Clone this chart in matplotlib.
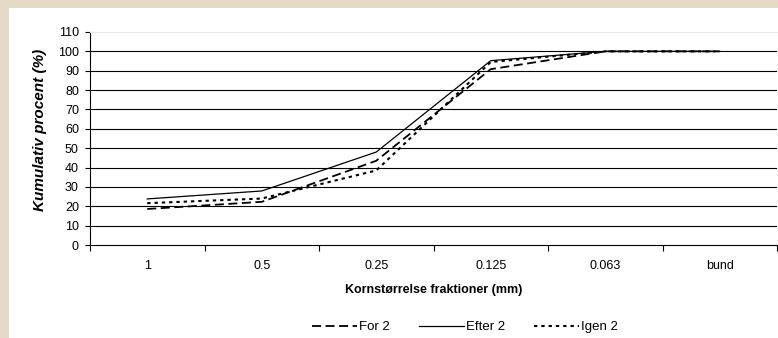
import matplotlib
matplotlib.use("Agg")
import matplotlib.pyplot as plt
from matplotlib.patches import Rectangle

# categories (grain size fractions) and cumulative percentages
fractions = ["1", "0.5", "0.25", "0.125", "0.063", "bund"]
for_2 = [18.6, 22.3, 43.5, 90.8, 100, 100]
efter_2 = [23.8, 27.9, 48.0, 95.2, 100, 100]
igen_2 = [21.6, 24.0, 38.5, 94.5, 100, 100]
y_ticks = list(range(0, 111, 10))

plt.rcParams['font.family'] = ['Liberation Sans', 'DejaVu Sans']

W, H = 778, 338
fig = plt.figure(figsize=(W / 100, H / 100), dpi=100)
fig.patch.set_facecolor("#E5D9C8")
# white panel inside the beige frame
fig.patches.append(Rectangle((9 / W, 0), 1, 1 - 8 / H, transform=fig.transFigure,
                             facecolor="white", edgecolor="none", zorder=-5))

ax = fig.add_axes([90 / W, 1 - 245 / H, (777 - 90) / W, (245 - 32) / H])
ax.set_zorder(2)
ax.set_facecolor("white")

x = list(range(len(fractions)))
ax.plot(x, for_2, color="black", lw=1.3, linestyle=(0, (5, 2.5)), label="For 2", zorder=3)
ax.plot(x, efter_2, color="black", lw=0.9, linestyle="-", label="Efter 2", zorder=3)
ax.plot(x, igen_2, color="black", lw=1.5, linestyle=(0, (1.6, 1.9)), label="Igen 2", zorder=3)

ax.set_xlim(-0.5, len(fractions) - 0.5)
ax.set_ylim(0, 110)

# category boundaries get tick marks, centers get labels
ax.set_xticks([i - 0.5 for i in range(len(fractions) + 1)])
ax.set_xticklabels([])
ax.set_xticks(x, minor=True)
ax.set_xticklabels(fractions, minor=True)
ax.tick_params(axis="x", which="major", direction="out", length=4, width=0.8, color="black")
ax.tick_params(axis="x", which="minor", length=0, pad=11, labelsize=9)
ax.set_yticks(y_ticks)
ax.tick_params(axis="y", direction="out", length=3.5, width=0.8, labelsize=9, pad=4.5)

for v in y_ticks[1:-1]:
    ax.axhline(v, color="black", lw=0.8, zorder=1)

ax.spines["right"].set_visible(False)
ax.spines["top"].set_color("#E8E8E8")
ax.spines["left"].set_linewidth(0.8)
ax.spines["bottom"].set_linewidth(0.8)

ax.set_xlabel("Kornstørrelse fraktioner (mm)", fontsize=9, fontweight="bold")
ax.xaxis.set_label_coords(0.5, -0.183)
ax.set_ylabel("Kumulativ procent (%)", fontsize=11, fontweight="bold", style="italic")
ax.yaxis.set_label_coords(-0.0626, 0.54)

fig.legend(loc="center", bbox_to_anchor=(465 / W, 1 - 327 / H), ncol=3, frameon=False,
           fontsize=9.5, handlelength=3.4, handletextpad=0.15, columnspacing=2.2)

fig.savefig("out.png", dpi=100, facecolor=fig.get_facecolor())
